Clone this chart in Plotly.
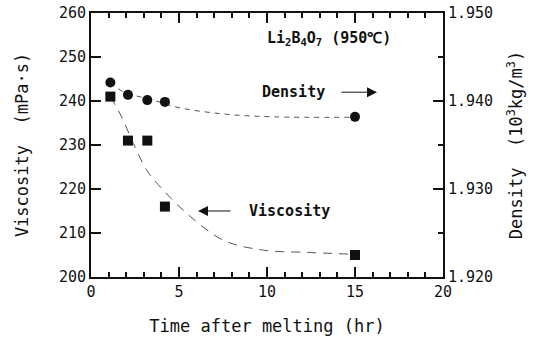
import plotly.graph_objects as go

# Measured data
time_visc = [1.1, 2.1, 3.2, 4.2, 15.0]
viscosity = [241, 231, 231, 216, 205]
time_dens = [1.1, 2.1, 3.2, 4.2, 15.0]
density = [1.9421, 1.9407, 1.9401, 1.9399, 1.9382]

# Fitted (dashed) curves
fit_visc_t = [1.1, 1.74, 2.4, 3.16, 4.0, 5.43, 7.5, 9.8, 12.25, 14.7]
fit_visc_v = [241, 236.4, 230.4, 224.3, 220.2, 214.5, 208.4, 206.1, 205.6, 205.2]
fit_dens_t = [1.1, 1.84, 3.54, 4.87, 7.5, 10.36, 14.7]
fit_dens_v = [1.9421, 1.94105, 1.9401, 1.9393, 1.93853, 1.9382, 1.93815]

FONT = "DejaVu Sans Mono"

fig = go.Figure()
fig.add_trace(go.Scatter(x=fit_visc_t, y=fit_visc_v, mode="lines",
                         line=dict(color="#555", width=1, dash="9px,7px", shape="spline"),
                         hoverinfo="skip", showlegend=False))
fig.add_trace(go.Scatter(x=fit_dens_t, y=fit_dens_v, mode="lines", yaxis="y2",
                         line=dict(color="#555", width=1, dash="5px,5px", shape="spline"),
                         hoverinfo="skip", showlegend=False))
fig.add_trace(go.Scatter(x=time_visc, y=viscosity, mode="markers",
                         marker=dict(symbol="square", size=10, color="#111"),
                         showlegend=False))
fig.add_trace(go.Scatter(x=time_dens, y=density, mode="markers", yaxis="y2",
                         marker=dict(symbol="circle", size=10, color="#111"),
                         showlegend=False))

tickfont = dict(family=FONT, size=15, color="#111")
titlefont = dict(family=FONT, size=17, color="#111")

fig.update_layout(
    width=533, height=339,
    margin=dict(l=91, r=90, t=13, b=62),
    paper_bgcolor="white", plot_bgcolor="white",
    xaxis=dict(range=[0, 20], dtick=5, ticks="inside", ticklen=10, tickwidth=1.5,
               tickcolor="#111", showline=True, linewidth=2, linecolor="#111",
               mirror="ticks", showgrid=False, zeroline=False, tickfont=tickfont,
               automargin=False,
               minor=dict(dtick=1, ticks="inside", ticklen=5, tickwidth=1.5, tickcolor="#111", showgrid=False),
               title=dict(text="Time after melting (hr)", font=titlefont, standoff=20)),
    yaxis=dict(range=[200, 260], dtick=10, ticks="inside", ticklen=10, tickwidth=1.5,
               tickcolor="#111", showline=True, linewidth=2, linecolor="#111",
               showgrid=False, zeroline=False, tickfont=tickfont, automargin=False,
               title=dict(text="Viscosity  (mPa·s)", font=titlefont, standoff=26)),
    yaxis2=dict(range=[1.920, 1.950], dtick=0.01, tickformat=".3f", overlaying="y",
                side="right", ticks="inside", ticklen=10, tickwidth=1.5, tickcolor="#111",
                showline=True, linewidth=2, linecolor="#111", showgrid=False,
                zeroline=False, tickfont=tickfont, automargin=False,
                minor=dict(dtick=0.005, ticks="inside", ticklen=5, tickwidth=1.5, tickcolor="#111", showgrid=False),
                title=dict(text="Density  (10<sup>3</sup>kg/m<sup>3</sup>)", font=titlefont, standoff=18)),
    annotations=[
        dict(x=13.5, y=254.3, xref="x", yref="y", showarrow=False,
             text="<b>Li<sub>2</sub>B<sub>4</sub>O<sub>7</sub> (950℃)</b>",
             font=dict(family=FONT, size=15, color="#111")),
        dict(x=11.5, y=242.0, xref="x", yref="y", showarrow=False, text="<b>Density</b>",
             font=dict(family=FONT, size=15, color="#111")),
        dict(x=16.25, y=242.0, ax=14.15, ay=242.0, xref="x", yref="y", axref="x", ayref="y",
             showarrow=True, arrowhead=2, arrowsize=2, arrowwidth=1, arrowcolor="#111", text=""),
        dict(x=11.25, y=215.0, xref="x", yref="y", showarrow=False, text="<b>Viscosity</b>",
             font=dict(family=FONT, size=15, color="#111")),
        dict(x=6.08, y=215.0, ax=8.01, ay=215.0, xref="x", yref="y", axref="x", ayref="y",
             showarrow=True, arrowhead=2, arrowsize=2, arrowwidth=1, arrowcolor="#111", text=""),
    ],
)

fig.write_html("out.html")
